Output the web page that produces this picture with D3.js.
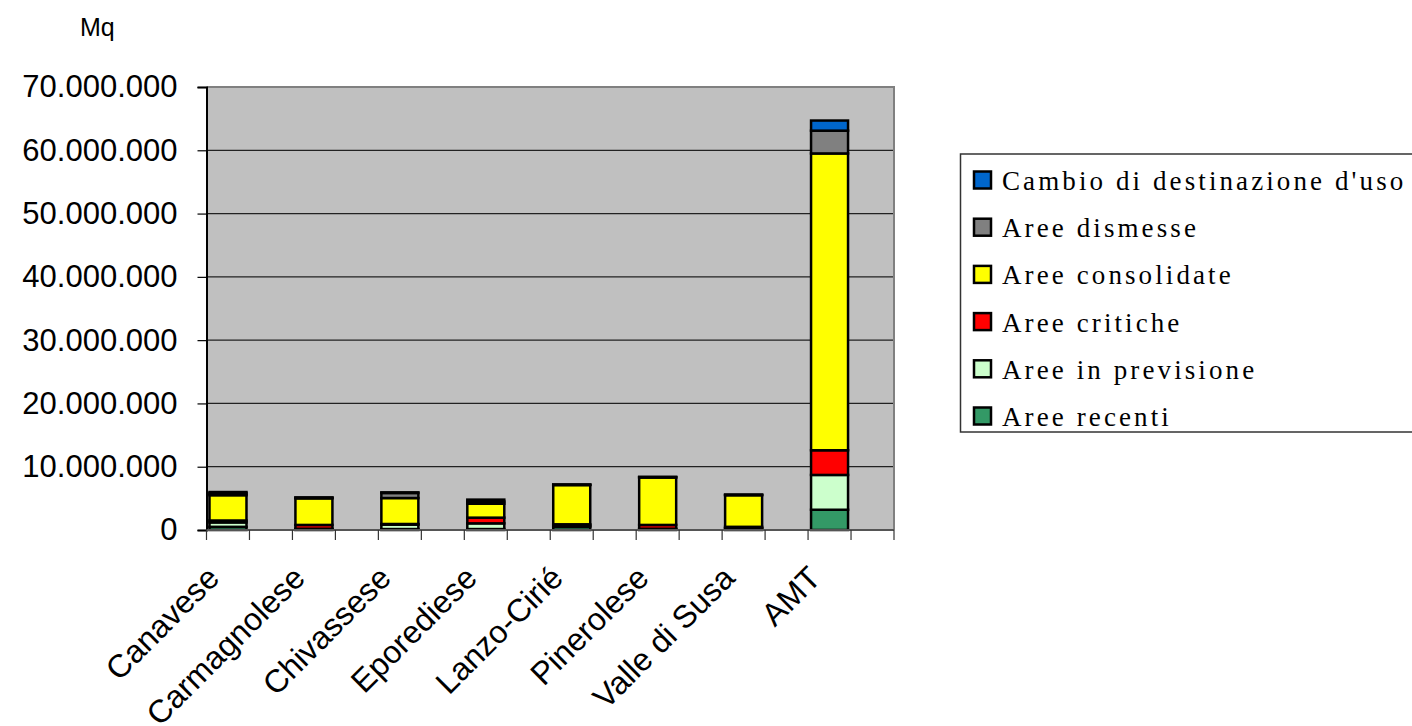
<!DOCTYPE html>
<html>
<head>
<meta charset="utf-8">
<script src="https://cdn.jsdelivr.net/npm/d3@7"></script>
<style>
  body { margin: 0; background: #fff; }
  svg { display: block; }
</style>
</head>
<body>
<div class="container"></div>
<script>
// area data, Mq
var categories = ["Canavese", "Carmagnolese", "Chivassese", "Eporediese", "Lanzo-Cirié", "Pinerolese", "Valle di Susa", "AMT"];

var seriesNames = ["Aree recenti", "Aree in previsione", "Aree critiche", "Aree consolidate", "Aree dismesse", "Cambio di destinazione d'uso"];

var areeRecenti     = [500000, 100000, 150000, 150000, 500000, 150000, 200000, 3200000];
var areePrevisione  = [700000, 100000, 700000, 900000, 200000, 50000, 100000, 5500000];
var areeCritiche    = [300000, 600000, 100000, 900000, 200000, 600000, 200000, 3900000];
var areeConsolidate = [4000000, 4200000, 4100000, 2200000, 6200000, 7500000, 5000000, 46900000];
var areeDismesse    = [300000, 100000, 800000, 350000, 50000, 50000, 50000, 3600000];
var cambioDest      = [200000, 50000, 100000, 300000, 50000, 50000, 50000, 1600000];

var yTicks = [0, 10000000, 20000000, 30000000, 40000000, 50000000, 60000000, 70000000];

var colors = ["#339966", "#CCFFCC", "#FF0000", "#FFFF00", "#808080", "#0066CC"];

var chart = {
	width: 1412,
	height: 726,
	left: 206.5,
	right: 894,
	top: 87,
	bottom: 530
};

var seriesValues = [areeRecenti, areePrevisione, areeCritiche, areeConsolidate, areeDismesse, cambioDest];

// one row per category for d3.stack
var rows = categories.map(function(c, i){
	var r = {name: c, idx: i};
	seriesNames.forEach(function(s, j){ r[s] = seriesValues[j][i]; });
	return r;
});

var stacked = d3.stack().keys(seriesNames)(rows);

// every category is followed by an empty slot, like the original sheet
var x = d3.scaleBand()
	.domain(d3.range(categories.length * 2))
	.range([chart.left, chart.right]);

var y = d3.scaleLinear()
	.domain([0, 70000000])
	.range([chart.bottom, chart.top]);

var it = d3.formatLocale({decimal: ",", thousands: ".", grouping: [3], currency: ["€", ""]});
var fmt = it.format(",d");

var svg = d3.select(".container")
.append("svg")
.attr("width", chart.width)
.attr("height", chart.height);

// plot background
svg.append("rect")
.attr("x", chart.left)
.attr("y", chart.top)
.attr("width", chart.right - chart.left)
.attr("height", chart.bottom - chart.top)
.style("fill", "#C0C0C0");

// gridlines
svg.append("g").selectAll("line")
.data(yTicks.filter(function(d){ return d > 0 && d < 70000000; }))
.enter().append("line")
.attr("x1", chart.left).attr("x2", chart.right)
.attr("y1", function(d){ return y(d); })
.attr("y2", function(d){ return y(d); })
.style("stroke", "#222")
.style("stroke-width", 1.2);

// top and right border of plot
svg.append("path")
.attr("d", "M" + chart.left + "," + chart.top + "H" + chart.right + "V" + chart.bottom)
.style("fill", "none")
.style("stroke", "#808080")
.style("stroke-width", 2);

// bars
var barW = 37;
var layers = svg.append("g").selectAll("g")
.data(stacked).enter().append("g")
.style("fill", function(d, i){ return colors[i]; });

layers.selectAll("rect")
.data(function(d){ return d; })
.enter().append("rect")
.attr("x", function(d){ return x(d.data.idx * 2) + (x.bandwidth() - barW) / 2; })
.attr("width", barW)
.attr("y", function(d){ return y(d[1]); })
.attr("height", function(d){ return y(d[0]) - y(d[1]); })
.style("stroke", "#000")
.style("stroke-width", 2.5);

// y axis
var yAxis = svg.append("g")
.attr("transform", "translate(" + chart.left + ",0)")
.call(d3.axisLeft(y).tickValues(yTicks).tickFormat(fmt).tickSize(9).tickPadding(20));
yAxis.select(".domain").style("stroke", "#000").style("stroke-width", 2);
yAxis.selectAll(".tick line").style("stroke", "#000").style("stroke-width", 1.2);
yAxis.selectAll("text")
.style("font-family", "'Liberation Sans', Arial, sans-serif")
.style("font-size", "31px")
.style("fill", "#000");

// x axis line + ticks at band boundaries
var xAxis = svg.append("g");
xAxis.append("line")
.attr("x1", chart.left).attr("x2", chart.right)
.attr("y1", chart.bottom).attr("y2", chart.bottom)
.style("stroke", "#555")
.style("stroke-width", 2);

var bounds = x.domain().map(function(d){ return x(d); }).concat([chart.right]);
xAxis.selectAll(".xt")
.data(bounds).enter().append("line")
.attr("class", "xt")
.attr("x1", function(d){ return d; }).attr("x2", function(d){ return d; })
.attr("y1", chart.bottom).attr("y2", chart.bottom + 10)
.style("stroke", "#333")
.style("stroke-width", 1.2);

xAxis.selectAll(".xl")
.data(categories).enter().append("text")
.attr("class", "xl")
.attr("transform", function(d, i){
	var cx = x(i * 2) + x.bandwidth() / 2 - 7;
	return "translate(" + cx + "," + (chart.bottom + 50) + ") rotate(-45)";
})
.attr("text-anchor", "end")
.style("font-family", "'Liberation Sans', Arial, sans-serif")
.style("font-size", "32px")
.text(function(d){ return d; });

// unit label
svg.append("text")
.attr("x", 80)
.attr("y", 36)
.style("font-family", "'Liberation Sans', Arial, sans-serif")
.style("font-size", "25px")
.text("Mq");

// legend, reversed order like the original
var legend = svg.append("g");
legend.append("rect")
.attr("x", 960.5).attr("y", 154)
.attr("width", 470).attr("height", 278)
.style("fill", "#fff")
.style("stroke", "#333")
.style("stroke-width", 1.5);

var legendItems = seriesNames.slice().reverse();
var li = legend.selectAll(".li")
.data(legendItems).enter().append("g")
.attr("class", "li")
.attr("transform", function(d, i){ return "translate(974," + (180 + i * 47.2) + ")"; });

li.append("rect")
.attr("x", 0).attr("y", -8.5)
.attr("width", 17).attr("height", 17)
.style("fill", function(d, i){ return colors[colors.length - 1 - i]; })
.style("stroke", "#000")
.style("stroke-width", 2.5);

li.append("text")
.attr("x", 28)
.attr("y", 10)
.style("font-family", "'Liberation Serif', 'Times New Roman', serif")
.style("font-size", "27px")
.style("letter-spacing", "3.1px")
.text(function(d){ return d; });
</script>
</body>
</html>
